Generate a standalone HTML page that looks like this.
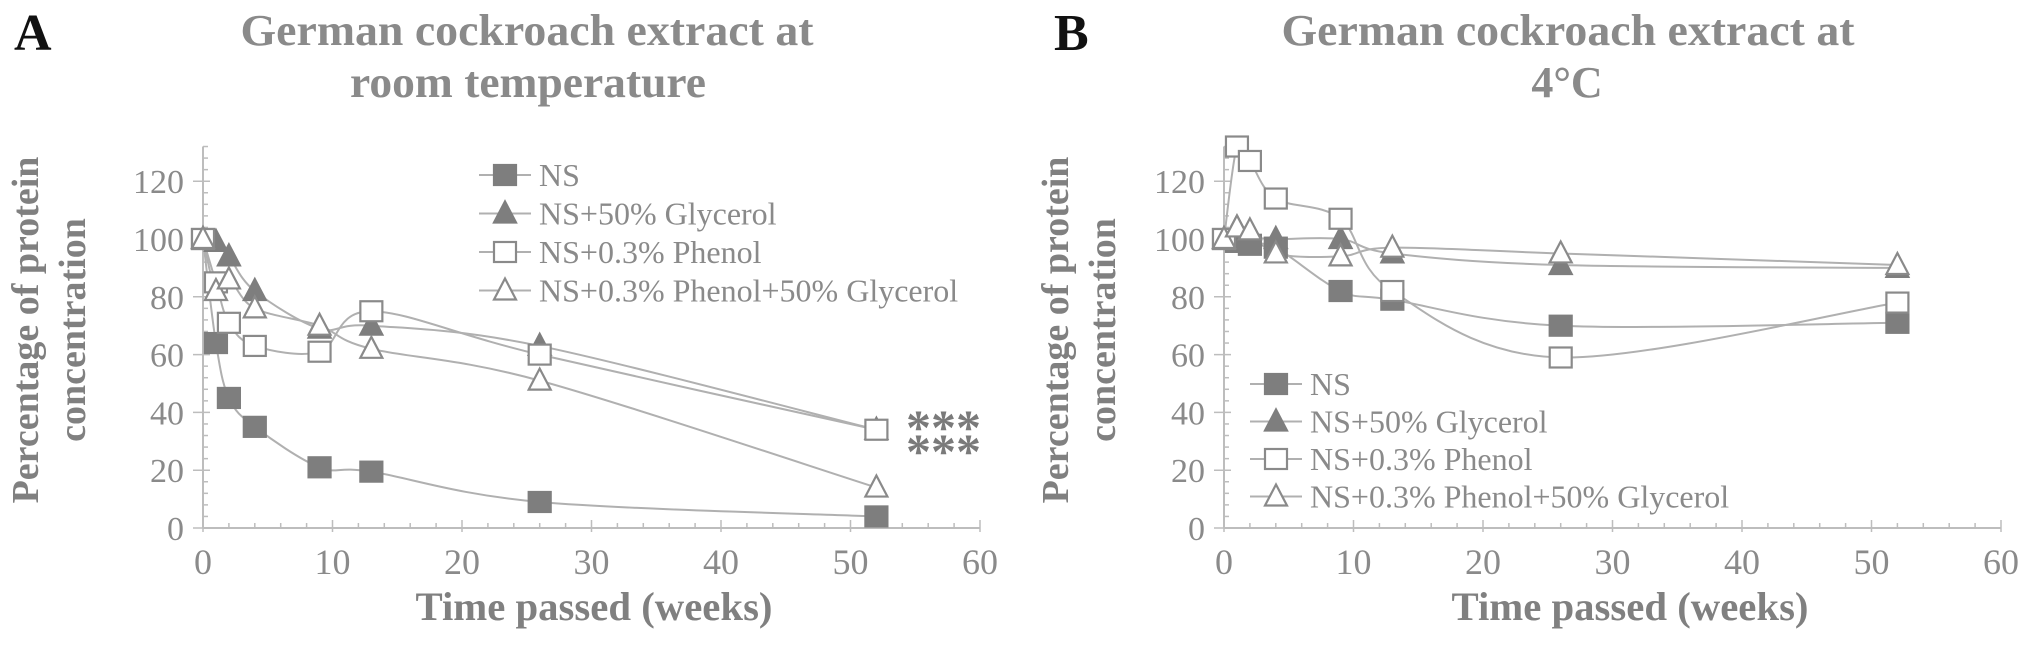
<!DOCTYPE html>
<html><head><meta charset="utf-8"><style>
html,body{margin:0;padding:0;background:#fff;}
svg{display:block;font-family:"Liberation Serif",serif;}
</style></head>
<body>
<svg id="chart" width="2031" height="653" viewBox="0 0 2031 653" xmlns="http://www.w3.org/2000/svg">
<text x="14" y="50" font-size="52" font-weight="bold" fill="#111">A</text>
<text x="527" y="45" font-size="44" font-weight="bold" fill="#8a8a8a" text-anchor="middle" textLength="573" lengthAdjust="spacingAndGlyphs">German cockroach extract at</text>
<text x="528" y="97" font-size="44" font-weight="bold" fill="#8a8a8a" text-anchor="middle" textLength="356" lengthAdjust="spacingAndGlyphs">room temperature</text>
<text x="1054" y="50" font-size="52" font-weight="bold" fill="#111">B</text>
<text x="1568" y="45" font-size="44" font-weight="bold" fill="#8a8a8a" text-anchor="middle" textLength="573" lengthAdjust="spacingAndGlyphs">German cockroach extract at</text>
<text x="1567" y="97" font-size="44" font-weight="bold" fill="#8a8a8a" text-anchor="middle">4°C</text>
<text x="906" y="444" font-size="50" font-weight="bold" fill="#7a7a7a">***</text>
<text x="906" y="468" font-size="50" font-weight="bold" fill="#7a7a7a">***</text>
</svg>
<script>
const weeks = [0, 1, 2, 4, 9, 13, 26, 52];
const seriesNames = ["NS", "NS+50% Glycerol", "NS+0.3% Phenol", "NS+0.3% Phenol+50% Glycerol"];
const aNS = [100, 64, 45, 35, 21, 19.5, 9, 4];
const aGly = [100, 99, 94, 82, 69, 70, 63, 34];
const aPhe = [100, 85, 71, 63, 61, 75, 60, 34];
const aPG = [100, 82, 86, 76, 70, 62, 51, 14];
const bNS = [100, 99, 98, 97, 82, 79, 70, 71];
const bGly = [100, 104, 101, 100, 100, 95, 91, 90];
const bPhe = [100, 132, 127, 114, 107, 82, 59, 78];
const bPG = [100, 104, 103, 95, 94, 97, 95, 91];
const xTicks = [0, 10, 20, 30, 40, 50, 60];
const yTicks = [0, 20, 40, 60, 80, 100, 120];

const NS = "http://www.w3.org/2000/svg";
const svg = document.getElementById('chart');
function el(tag, attrs, parent) {
  const e = document.createElementNS(NS, tag);
  for (const k in attrs) e.setAttribute(k, attrs[k]);
  (parent || svg).appendChild(e);
  return e;
}
const Y0 = 528, YPX = 2.89;
function yS(v) { return Y0 - v * YPX; }

function smoothPath(pts) {
  let d = `M${pts[0][0]},${pts[0][1]}`;
  for (let i = 0; i < pts.length - 1; i++) {
    const p0 = pts[Math.max(0, i - 1)], p1 = pts[i], p2 = pts[i + 1], p3 = pts[Math.min(pts.length - 1, i + 2)];
    const c1x = p1[0] + (p2[0] - p0[0]) / 6, c1y = p1[1] + (p2[1] - p0[1]) / 6;
    const c2x = p2[0] - (p3[0] - p1[0]) / 6, c2y = p2[1] - (p3[1] - p1[1]) / 6;
    d += ` C${c1x},${c1y} ${c2x},${c2y} ${p2[0]},${p2[1]}`;
  }
  return d;
}
function marker(kind, cx, cy, g) {
  let m;
  if (kind === 0 || kind === 2) {
    m = el('rect', {x: cx - 11, y: cy - 10, width: 22, height: 20,
      fill: kind === 0 ? '#7e7e7e' : '#fff', stroke: kind === 0 ? '#7e7e7e' : '#8a8a8a', 'stroke-width': 2.2}, g);
  } else {
    m = el('polygon', {points: `${cx},${cy - 12} ${cx + 11},${cy + 9} ${cx - 11},${cy + 9}`,
      fill: kind === 1 ? '#7e7e7e' : '#fff', stroke: kind === 1 ? '#7e7e7e' : '#8a8a8a', 'stroke-width': 2.2}, g);
  }
  return m;
}

function panel(id, X0, series, legX, legY, legDy, yTitleX1, yTitleX2, xTitleCx) {
  const XPX = 12.95;
  const xS = v => X0 + v * XPX;
  const g = el('g', {});
  
  
  const ax = el('line', {x1: X0, y1: Y0, x2: xS(60), y2: Y0, stroke: '#bdbdbd', 'stroke-width': 2}, g);
  
  
  const ay = el('line', {x1: X0, y1: Y0, x2: X0, y2: yS(132), stroke: '#bdbdbd', 'stroke-width': 2}, g);
  
  
  for (let v = 2; v <= 60; v += 2) {
    if (v % 10 === 0) continue;
    el('line', {x1: xS(v), y1: Y0, x2: xS(v), y2: Y0 - 5, stroke: '#bdbdbd', 'stroke-width': 1.5}, g);
  }
  for (let v = 4; v <= 132; v += 4) {
    if (v % 20 === 0) continue;
    el('line', {x1: X0, y1: yS(v), x2: X0 + 5, y2: yS(v), stroke: '#bdbdbd', 'stroke-width': 1.5}, g);
  }
  xTicks.forEach(t => {
    el('line', {x1: xS(t), y1: Y0 + 4, x2: xS(t), y2: Y0 - 8, stroke: '#bdbdbd', 'stroke-width': 1.5}, g);
    const tx = el('text', {x: xS(t), y: 574, 'font-size': 36, fill: '#8a8a8a', 'text-anchor': 'middle'}, g);
    tx.textContent = t;
    
    
  });
  yTicks.forEach(t => {
    el('line', {x1: X0 - 10, y1: yS(t), x2: X0 + 7, y2: yS(t), stroke: '#bdbdbd', 'stroke-width': 1.5}, g);
    const ty = el('text', {x: X0 - 19, y: yS(t) + 12, 'font-size': 34, fill: '#8a8a8a', 'text-anchor': 'end'}, g);
    ty.textContent = t;
    
    
  });
  const xt = el('text', {x: xTitleCx, y: 620, 'font-size': 40, 'font-weight': 'bold', fill: '#808080', 'text-anchor': 'middle', textLength: 357, lengthAdjust: 'spacingAndGlyphs'}, g);
  xt.textContent = 'Time passed (weeks)';
  
  
  const yt1 = el('text', {x: 0, y: 0, 'font-size': 38, 'font-weight': 'bold', fill: '#808080', 'text-anchor': 'middle', transform: `translate(${yTitleX1},330) rotate(-90)`}, g);
  yt1.textContent = 'Percentage of protein';
  
  
  const yt2 = el('text', {x: 0, y: 0, 'font-size': 38, 'font-weight': 'bold', fill: '#808080', 'text-anchor': 'middle', transform: `translate(${yTitleX2},330) rotate(-90)`}, g);
  yt2.textContent = 'concentration';
  
  
  series.forEach((vals, k) => {
    const pts = weeks.map((w, i) => [xS(w), yS(vals[i])]);
    const p = el('path', {d: smoothPath(pts), fill: 'none', stroke: '#b0b0b0', 'stroke-width': 2}, g);
    
    
  });
  series.forEach((vals, k) => {
    weeks.forEach((w, i) => {
      const m = marker(k, xS(w), yS(vals[i]), g);
      
      
    });
  });
  seriesNames.forEach((n, k) => {
    const ly = legY + k * legDy;
    const lg = el('g', {}, g);
    
    
    el('line', {x1: legX, y1: ly, x2: legX + 52, y2: ly, stroke: '#b0b0b0', 'stroke-width': 2}, lg);
    marker(k, legX + 26, ly, lg);
    const t = el('text', {x: legX + 60, y: ly + 11, 'font-size': 32, fill: '#8a8a8a'}, lg);
    t.textContent = n;
  });
}
panel('panel-a', 203, [aNS, aGly, aPhe, aPG], 479, 175, 38.5, 38, 85, 594);
panel('panel-b', 1224, [bNS, bGly, bPhe, bPG], 1250, 384, 37.5, 1068, 1115, 1630);
</script>
</body></html>
